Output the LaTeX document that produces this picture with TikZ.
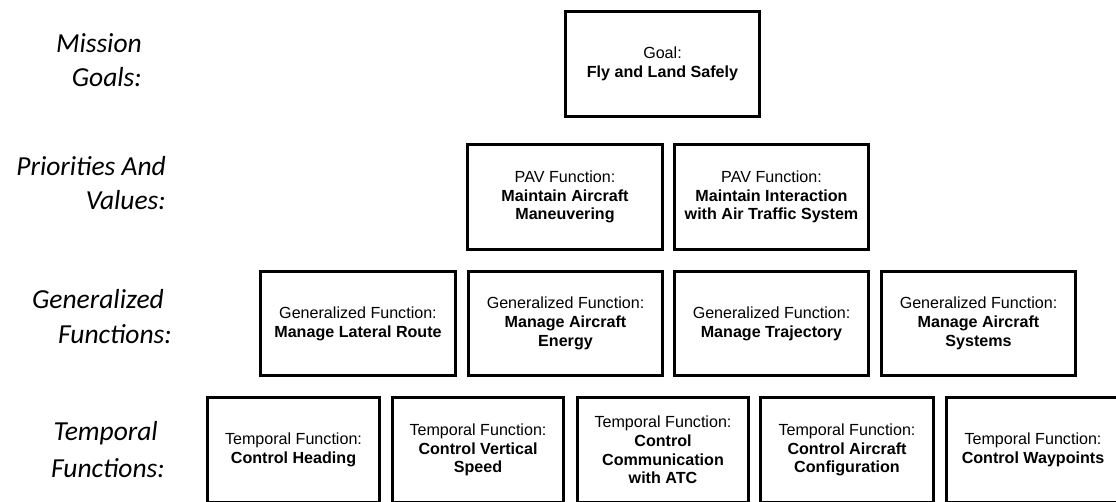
\documentclass[tikz,border=0pt]{standalone}
\usepackage{fontspec}
\setmainfont{Liberation Sans}
\newfontfamily\labelfont{Carlito}
\tikzset{
  fnbox/.style={draw=black, line width=3.2pt, align=center, inner sep=0pt,
    font=\fontsize{16.1}{18.8}\selectfont, text=black},
  goalbox/.style={fnbox, minimum width=193.8pt, minimum height=104.8pt},
  pavbox/.style={fnbox, minimum height=104.8pt},
  genbox/.style={fnbox, minimum height=103.8pt},
  tempbox/.style={fnbox, minimum height=104.8pt},
  levellabel/.style={anchor=base east, inner sep=0pt,
    font=\labelfont\itshape\fontsize{27.5}{33}\selectfont, text=black}
}
\begin{document}
\begin{tikzpicture}[x=1pt, y=-1pt]
\clip (0,0) rectangle (1116,501);
\fill[white] (0,0) rectangle (1116,501);

% level labels
\node[levellabel] (l1a) at (142,52) {Mission};
\node[levellabel] (l1b) at (142,86) {Goals:};
\node[levellabel] (l2a) at (166,175) {Priorities And};
\node[levellabel] (l2b) at (166,209) {Values:};
\node[levellabel] (l3a) at (164,308) {Generalized};
\node[levellabel] (l3b) at (172,343) {Functions:};
\node[levellabel] (l4a) at (158,440) {Temporal};
\node[levellabel] (l4b) at (165,477) {Functions:};

% mission goal
\node[goalbox] (goal) at (662.5,64) {Goal:\\\textbf{Fly and Land Safely}};

% priorities and values
\node[pavbox, minimum width=194.8pt] (pav1) at (565,197)
  {PAV Function:\\\textbf{Maintain Aircraft}\\\textbf{Maneuvering}};
\node[pavbox, minimum width=193.8pt] (pav2) at (771.5,197)
  {PAV Function:\\\textbf{Maintain Interaction}\\\textbf{with Air Traffic System}};

% generalized functions
\node[genbox, minimum width=194.8pt] (gen1) at (358,323.5)
  {Generalized Function:\\\textbf{Manage Lateral Route}};
\node[genbox, minimum width=193.8pt] (gen2) at (565.5,323.5)
  {Generalized Function:\\\textbf{Manage Aircraft}\\\textbf{Energy}};
\node[genbox, minimum width=193.8pt] (gen3) at (771.5,323.5)
  {Generalized Function:\\\textbf{Manage Trajectory}};
\node[genbox, minimum width=193.8pt] (gen4) at (978.5,323.5)
  {Generalized Function:\\\textbf{Manage Aircraft}\\\textbf{Systems}};

% temporal functions
\node[tempbox, minimum width=171.8pt] (tmp1) at (293.5,450)
  {Temporal Function:\\\textbf{Control Heading}};
\node[tempbox, minimum width=170.8pt] (tmp2) at (478,450)
  {Temporal Function:\\\textbf{Control Vertical}\\\textbf{Speed}};
\node[tempbox, minimum width=170.8pt] (tmp3) at (663,450)
  {Temporal Function:\\\textbf{Control}\\\textbf{Communication}\\\textbf{with ATC}};
\node[tempbox, minimum width=172.8pt] (tmp4) at (847,450)
  {Temporal Function:\\\textbf{Control Aircraft}\\\textbf{Configuration}};
\node[tempbox, minimum width=172.8pt] (tmp5) at (1033,450)
  {Temporal Function:\\\textbf{Control Waypoints}};
\end{tikzpicture}
\end{document}
